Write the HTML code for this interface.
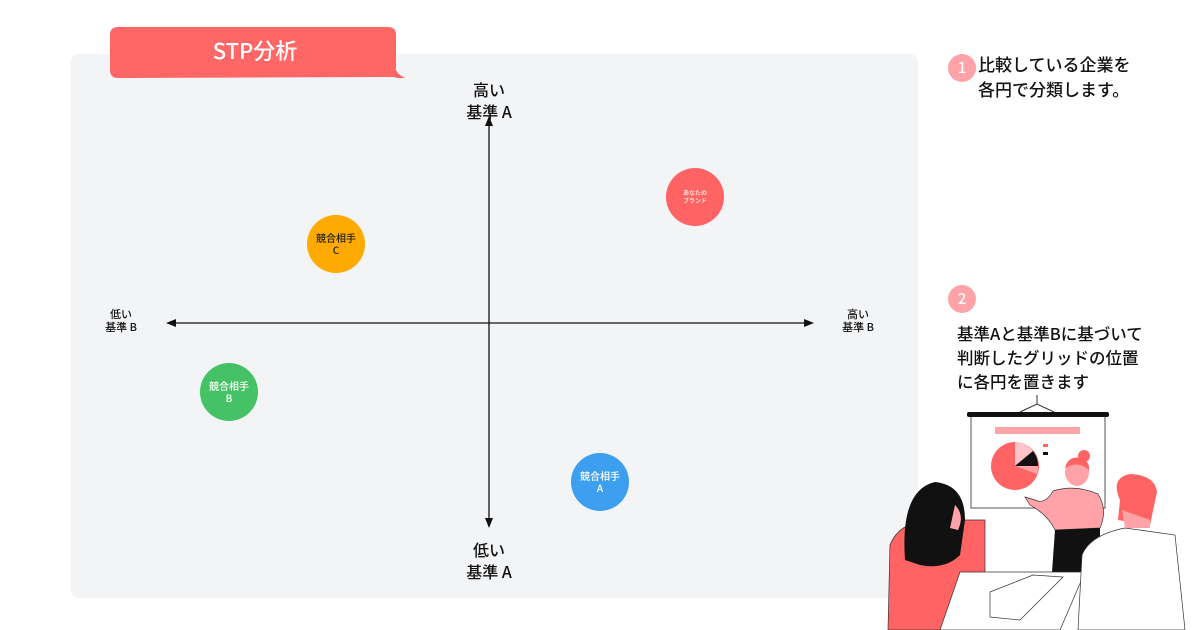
<!DOCTYPE html>
<html><head><meta charset="utf-8"><style>
body{margin:0;width:1200px;height:630px;background:#fff;overflow:hidden;position:relative;font-family:"Noto Sans CJK JP","Liberation Sans",sans-serif;font-weight:500}
.a{position:absolute}
.t{position:absolute;text-align:center;white-space:nowrap}
</style></head><body>
<div class="a" style="left:71px;top:54px;width:847px;height:544px;background:#f3f4f6;border-radius:8px"></div>
<svg class="a" style="left:0;top:0" width="1200" height="630">
<path d="M110 35 Q110 27 118 27 L388 27 Q396 27 396 35 L396 70 Q399 76 406 78 L398 78 Q396 78 394 77 L118 78 Q110 78 110 70 Z" fill="#ff6666"/>
<line x1="489" y1="526" x2="489" y2="120" stroke="#111" stroke-width="1.3"/>
<path d="M489 116 L485 126 L493 126 Z" fill="#111"/>
<path d="M489 528 L485 518 L493 518 Z" fill="#111"/>
<line x1="170" y1="323" x2="810" y2="323" stroke="#111" stroke-width="1.3"/>
<path d="M166 323 L176 319 L176 327 Z" fill="#111"/>
<path d="M814 323 L804 319 L804 327 Z" fill="#111"/>
<circle cx="695" cy="197" r="29" fill="#ff6363"/>
<circle cx="336" cy="244" r="29" fill="#ffaa00"/>
<circle cx="229" cy="392" r="29" fill="#44c265"/>
<circle cx="600" cy="482" r="29" fill="#3d9ff0"/>
<circle cx="962" cy="68" r="14" fill="#ffa3a8"/>
<circle cx="962" cy="299" r="14" fill="#ffa3a8"/>
<line x1="1037" y1="395" x2="1037" y2="404" stroke="#333"/>
<path d="M1020 412 L1037 404 L1054 412" stroke="#333" fill="none"/>
<rect x="971" y="413" width="134" height="95" fill="#fff" stroke="#555"/>
<rect x="967" y="412" width="142" height="5" rx="2" fill="#111"/>
<rect x="995" y="427" width="85" height="7" fill="#ffa3a8"/>
<circle cx="1015" cy="466" r="24" fill="#ff6363"/>
<path d="M1015 466 L1015 442 A24 24 0 0 1 1033 451 Z" fill="#ffc4c8"/>
<path d="M1015 466 L1033 451 A24 24 0 0 1 1038 466 Z" fill="#111"/>
<path d="M1015 466 L1038 466 A24 24 0 0 1 1037 474 Z" fill="#ffa3a8"/>
<rect x="1043" y="444" width="5" height="3" fill="#ff6363"/><rect x="1043" y="452" width="5" height="3" fill="#111"/>
<path d="M1053 491 Q1075 484 1098 494 Q1108 510 1100 528 L1055 530 Q1048 515 1030 505 L1025 497 L1035 500 Q1045 505 1053 491 Z" fill="#ffa3a8" stroke="#333" stroke-width=".7"/>
<path d="M1055 530 L1100 528 L1100 572 L1052 572 Z" fill="#111"/>
<ellipse cx="1077" cy="472" rx="12" ry="14" fill="#ffa3a8"/>
<path d="M1065 468 Q1068 455 1082 458 Q1090 462 1089 470 Q1078 460 1065 468Z" fill="#ff6363"/>
<circle cx="1084" cy="456" r="6" fill="#ff6363"/>
<path d="M888 630 L890 545 Q900 520 935 520 L985 520 L985 630 Z" fill="#ff6363" stroke="#333" stroke-width=".7"/>
<path d="M905 560 Q900 490 935 482 Q965 485 965 520 L960 555 Q945 570 920 565 Z" fill="#111"/>
<path d="M955 505 Q965 515 958 530 L950 528 Z" fill="#ffa3a8"/>
<path d="M960 572 L1085 572 L1060 630 L940 630 Z" fill="#fff" stroke="#333" stroke-width=".7"/>
<path d="M990 592 L1033 575 L1063 577 L1020 620 L990 617 Z" fill="#fff" stroke="#333" stroke-width=".7"/>
<path d="M1078 630 L1082 555 Q1090 535 1125 528 L1175 535 L1185 630 Z" fill="#fff" stroke="#333" stroke-width=".7"/>
<path d="M1118 520 L1120 500 Q1110 478 1130 474 Q1155 475 1157 492 L1150 525 Z" fill="#ff6363"/>
<path d="M1122 510 L1150 520 L1150 528 L1125 528 Z" fill="#ffa3a8"/>
</svg>
<div class="t" style="left:110px;top:35px;width:290px;color:#fff;font-size:22px;line-height:30px">STP分析</div>
<div class="t" style="left:439px;top:78px;width:100px;font-size:16px;line-height:22px;color:#111">高い<br>基準 A</div>
<div class="t" style="left:439px;top:538px;width:100px;font-size:16px;line-height:22px;color:#111">低い<br>基準 A</div>
<div class="t" style="left:91px;top:308px;width:60px;font-size:11px;line-height:13px;color:#111">低い<br>基準 B</div>
<div class="t" style="left:828px;top:308px;width:60px;font-size:11px;line-height:13px;color:#111">高い<br>基準 B</div>
<div class="t" style="left:665px;top:189px;width:60px;font-size:6px;line-height:8px;color:#fff">あなたの<br>ブランド</div>
<div class="t" style="left:306px;top:232px;width:60px;font-size:10px;line-height:12px;color:#222">競合相手<br>C</div>
<div class="t" style="left:199px;top:380px;width:60px;font-size:10px;line-height:12px;color:#fff">競合相手<br>B</div>
<div class="t" style="left:570px;top:470px;width:60px;font-size:10px;line-height:12px;color:#fff">競合相手<br>A</div>
<div class="t" style="left:948px;top:57px;width:28px;color:#fff;font-size:15px;line-height:22px">1</div>
<div class="t" style="left:948px;top:288px;width:28px;color:#fff;font-size:15px;line-height:22px">2</div>
<div class="a" style="left:978px;top:51px;font-size:17px;line-height:25px;color:#111;white-space:nowrap">比較している企業を<br>各円で分類します。</div>
<div class="a" style="left:957px;top:321px;font-size:16.5px;line-height:24px;color:#111;white-space:nowrap">基準Aと基準Bに基づいて<br>判断したグリッドの位置<br>に各円を置きます</div>
</body></html>
